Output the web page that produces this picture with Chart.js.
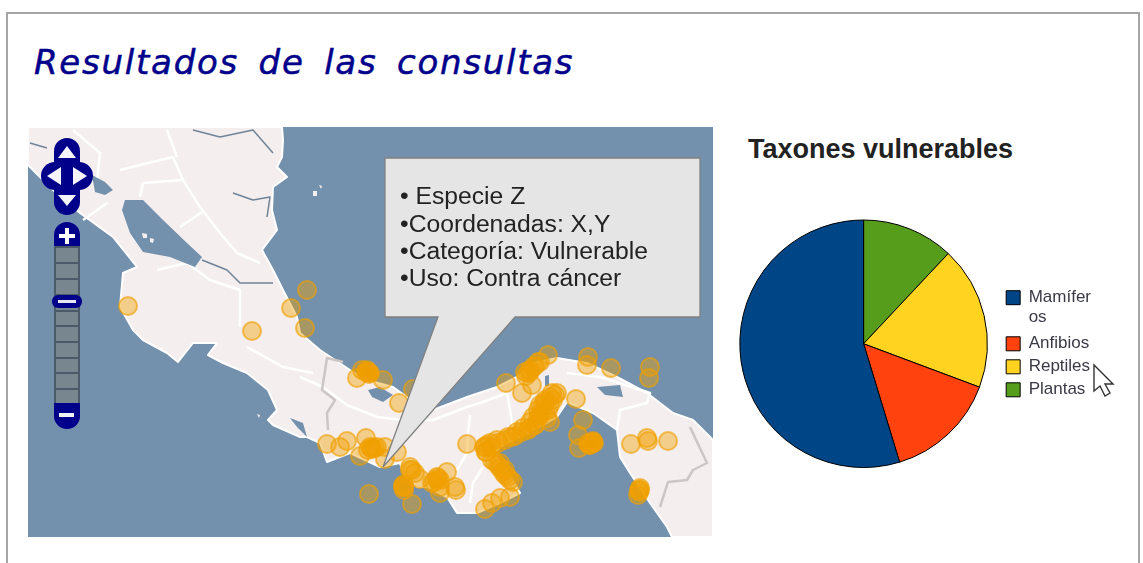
<!DOCTYPE html>
<html lang="es">
<head>
<meta charset="utf-8">
<title>Resultados de las consultas</title>
<script src="https://cdn.jsdelivr.net/npm/chart.js@4/dist/chart.umd.min.js"></script>
<style>
    html, body { margin: 0; padding: 0; background: #fff; overflow: hidden; width: 1143px; height: 563px; }
    #frame { position: absolute; left: 6px; top: 12px; width: 1130px; height: 600px; border: 2px solid #a6a6a6; }
    #page-title { position: absolute; left: 34px; top: 42px; margin: 0; font: italic normal 34px "DejaVu Sans", sans-serif; -webkit-text-stroke: 0.5px #00008b; letter-spacing: 1.75px; word-spacing: 7px; color: #00008b; white-space: nowrap; }
    #pie-title { position: absolute; left: 748px; top: 134px; margin: 0; font: bold 27px "Liberation Sans", sans-serif; color: #222; white-space: nowrap; }
    #map-wrap { position: absolute; left: 28px; top: 127px; width: 685px; height: 410px; }
    #mapChart { filter: blur(0.6px); }
    #overlay { position: absolute; left: 0; top: 0; pointer-events: none; }
    #pie-wrap { position: absolute; left: 718px; top: 210px; width: 400px; height: 268px; }
    .callout-text { font: 24.7px "Liberation Sans", sans-serif; fill: #222; }
</style>
</head>
<body>
<div id="frame"></div>
<h1 id="page-title">Resultados de las consultas</h1>
<div id="map-wrap"><canvas id="mapChart" width="685" height="410"></canvas></div>
<h2 id="pie-title">Taxones vulnerables</h2>
<div id="pie-wrap"><canvas id="pieChart" width="400" height="268"></canvas></div>

<svg id="overlay" width="1143" height="563">
    <!-- pan control -->
    <g fill="#00008b">
        <rect x="54" y="138" width="26" height="77" rx="13"/>
        <rect x="41" y="162" width="52" height="28" rx="14"/>
    </g>
    <g fill="#f4f4fa">
        <polygon points="67,146 58,158 76,158"/>
        <polygon points="47,176 61,167 61,185"/>
        <polygon points="87,176 73,167 73,185"/>
        <polygon points="67,206 58,195 76,195"/>
    </g>
    <!-- zoom bar -->
    <path d="M54 247 V235 a13 13 0 0 1 26 0 V247 Z" fill="#00008b"/>
    <rect x="55" y="247" width="24" height="157" fill="#78868f" stroke="#4a5a68" stroke-width="2"/>
    <g stroke="#4a5a68" stroke-width="2">
        <line x1="55" x2="79" y1="263" y2="263"/><line x1="55" x2="79" y1="279" y2="279"/>
        <line x1="55" x2="79" y1="295" y2="295"/><line x1="55" x2="79" y1="311" y2="311"/>
        <line x1="55" x2="79" y1="326" y2="326"/><line x1="55" x2="79" y1="342" y2="342"/>
        <line x1="55" x2="79" y1="358" y2="358"/><line x1="55" x2="79" y1="373" y2="373"/>
        <line x1="55" x2="79" y1="389" y2="389"/>
    </g>
    <path d="M54 403 H80 V416 a13 13 0 0 1 -26 0 Z" fill="#00008b"/>
    <rect x="52" y="295" width="30" height="13" rx="6" fill="#00008b"/>
    <rect x="58" y="300" width="18" height="3" fill="#e8e8f4"/>
    <rect x="59" y="234" width="16" height="4" fill="#fff"/><rect x="65" y="228" width="4" height="16" fill="#fff"/>
    <rect x="59" y="413" width="15" height="4" fill="#f0f0f8"/>
    <!-- callout -->
    <polygon points="385,158 700,158 700,317 515,317 383,467 438,317 385,317" fill="#e5e5e5" stroke="#808080" stroke-width="1.3"/>
    <text class="callout-text" x="400" y="204">• Especie Z</text>
    <text class="callout-text" x="400" y="232">•Coordenadas: X,Y</text>
    <text class="callout-text" x="400" y="259">•Categoría: Vulnerable</text>
    <text class="callout-text" x="400" y="286">•Uso: Contra cáncer</text>
    <!-- mouse pointer -->
    <polygon points="1094,365 1094,391 1100,386 1105,396 1110,393 1105,384 1113,384" fill="#fff" stroke="#333" stroke-width="1.4"/>
</svg>

<script>
document.addEventListener('DOMContentLoaded', () => {
    // --- 1. Pie data ---
    const TAXA = ['Mamíferos', 'Anfibios', 'Reptiles', 'Plantas'];
    const TAXA_LEGEND = [['Mamífer', 'os'], 'Anfibios', 'Reptiles', 'Plantas'];
    const TAXA_SHARE = [54.7, 14.6, 18.7, 12.0];
    const TAXA_COLORS = ['#004586', '#ff420e', '#ffd320', '#579d1c'];

    // --- 2. Map data (map units) ---
    const MAP_X_RANGE = [28, 713];
    const MAP_Y_RANGE = [127, 537];

    const RECORD_X = [128, 307, 291, 305, 252,
        357, 362, 368, 370, 367, 383, 399, 413, 368, 366, 369,
        327, 340, 347, 366, 360, 372, 377, 368, 385, 385, 397, 369, 372, 375, 370,
        410, 412, 415, 420, 403, 404, 412, 404, 404, 403, 410,
        437, 432, 440, 447, 438, 455, 456, 440, 467, 437, 434, 440,
        485, 490, 497, 508, 517, 523, 530, 533, 538, 543, 550, 557, 548, 550, 540, 535, 545,
        540, 545, 550, 553, 547, 535, 528, 522, 515, 505, 498, 492, 486, 484, 487, 555, 552, 540, 538, 545, 530, 512,
        492, 498, 503, 508, 513, 486, 495, 500, 505, 510, 505, 500,
        485, 492, 500, 510,
        506, 522, 532, 525, 533, 540, 548, 530, 530, 535, 528, 538, 526,
        576, 583, 578, 579, 592, 593, 590, 588, 591, 593, 589, 594,
        588, 587, 611, 650, 649, 631, 647, 648, 668, 639, 638, 640, 640, 639];
    const RECORD_Y = [306, 290, 308, 328, 331,
        378, 370, 372, 373, 370, 380, 403, 389, 372, 372, 374,
        444, 447, 441, 438, 456, 448, 447, 450, 447, 459, 452, 494, 449, 448, 447,
        467, 470, 473, 479, 487, 490, 504, 485, 487, 485, 470,
        477, 483, 487, 472, 478, 487, 490, 493, 444, 480, 482, 480,
        447, 443, 440, 437, 432, 428, 422, 417, 410, 405, 397, 393, 410, 422, 415, 425, 402,
        415, 410, 405, 400, 418, 425, 430, 432, 436, 440, 443, 447, 452, 447, 445, 395, 393, 405, 418, 400, 428, 437,
        460, 465, 472, 477, 482, 452, 462, 468, 475, 480, 470, 463,
        509, 503, 498, 497,
        383, 393, 385, 372, 367, 362, 355, 370, 372, 366, 373, 362, 376,
        399, 420, 435, 448, 443, 442, 445, 443, 444, 441, 445, 443,
        357, 365, 368, 367, 378, 444, 438, 441, 441, 490, 495, 488, 490, 492];

    const LAND_OUTLINE = [[28, 127], [282, 127], [283, 140], [282, 157], [277, 167], [287, 177], [273, 187], [272, 210], [277, 230],
        [262, 250], [273, 270], [283, 290], [297, 317], [300, 333], [320, 350], [350, 370], [367, 380], [393, 387], [407, 397],
        [433, 410], [467, 397], [497, 387], [517, 377], [533, 363], [557, 358], [587, 363], [617, 377], [647, 393], [673, 413],
        [693, 420], [713, 440], [713, 537], [672, 537], [667, 527], [650, 503], [630, 473], [620, 457], [617, 430], [593, 413],
        [567, 402], [557, 417], [533, 430], [507, 443], [493, 453], [507, 470], [520, 493], [500, 503], [477, 513], [457, 513],
        [447, 497], [427, 487], [417, 487], [403, 473], [400, 463], [380, 467], [350, 453], [327, 462], [320, 443], [307, 437],
        [300, 437], [273, 425], [268, 420], [277, 410], [268, 390], [247, 373], [223, 363], [208, 355], [217, 343], [193, 343],
        [178, 362], [167, 353], [143, 340], [133, 330], [120, 307], [123, 273], [137, 267], [113, 237], [80, 213], [53, 190],
        [28, 165]];
    const WATER_LAKE_NICARAGUA = [[125, 200], [143, 200], [163, 220], [187, 243], [202, 257], [195, 267], [170, 257], [143, 252], [130, 233], [122, 210]];
    const WATER_FONSECA = [[92, 175], [105, 182], [113, 190], [105, 195], [95, 192]];
    const WATER_DULCE = [[290, 418], [303, 423], [307, 437], [297, 427]];
    const WATER_CHIRIQUI = [[368, 390], [380, 387], [393, 395], [383, 402], [372, 397]];
    const WATER_BAYANO = [[597, 387], [620, 385], [623, 397], [605, 395]];
    const WATER_GATUN = [[545, 376], [549, 375], [549, 386], [545, 386]];
    const ISLETS = [
        [[142, 233], [147, 234], [147, 238], [143, 238]],
        [[150, 238], [154, 239], [153, 243], [150, 242]],
        [[313, 191], [317, 191], [317, 196], [313, 196]],
        [[319, 185], [322, 186], [321, 189]],
        [[257, 414], [260, 415], [259, 418]]
    ];

    const RIVERS = [
        [[202, 260], [227, 270], [240, 283], [273, 283]],
        [[193, 130], [220, 137], [253, 130], [273, 153]],
        [[233, 193], [253, 200], [270, 197], [267, 217]],
        [[30, 143], [47, 148]]
    ];
    const ROADS = [
        [[73, 130], [100, 153], [97, 180]],
        [[120, 170], [173, 157], [183, 180], [143, 183], [140, 197]],
        [[167, 130], [177, 157]],
        [[183, 180], [200, 207], [220, 233], [237, 253], [260, 263]],
        [[180, 227], [202, 212]],
        [[83, 220], [107, 203]],
        [[157, 270], [187, 263], [210, 280], [240, 290], [240, 327]],
        [[247, 347], [283, 367], [313, 373]],
        [[300, 377], [323, 387], [347, 405], [377, 417], [403, 420], [433, 420], [467, 407], [483, 402], [507, 393], [513, 427]],
        [[470, 415], [468, 433], [467, 453], [457, 470]],
        [[483, 467], [473, 483], [470, 503]],
        [[567, 373], [600, 377], [650, 393], [647, 403], [620, 410], [617, 430]]
    ];
    const BORDERS = [
        [[343, 362], [327, 358], [322, 390], [335, 400], [327, 413], [328, 430]],
        [[690, 427], [707, 463], [693, 470], [687, 480], [668, 482], [660, 507]]
    ];

    const SEA_COLOR = '#7391ad';
    const LAND_COLOR = '#f5eeee';

    // --- 3. Base map plugin, goes through the chart scales ---
    const baseMapPlugin = {
        id: 'baseMap',
        beforeDatasetsDraw(chart) {
            const { ctx, scales: { x, y }, chartArea } = chart;
            const trace = (pts) => {
                ctx.beginPath();
                pts.forEach((p, i) => {
                    const px = x.getPixelForValue(p[0]);
                    const py = y.getPixelForValue(p[1]);
                    if (i === 0) ctx.moveTo(px, py); else ctx.lineTo(px, py);
                });
            };
            ctx.save();
            ctx.fillStyle = SEA_COLOR;
            ctx.fillRect(chartArea.left, chartArea.top, chartArea.width, chartArea.height);

            trace(LAND_OUTLINE);
            ctx.closePath();
            ctx.fillStyle = LAND_COLOR;
            ctx.fill();
            ctx.lineJoin = 'round';
            ctx.strokeStyle = '#ffffff';
            ctx.lineWidth = 2;
            ctx.stroke();

            ctx.lineWidth = 2.5;
            ctx.strokeStyle = '#ffffff';
            ROADS.forEach(r => { trace(r); ctx.stroke(); });
            ctx.strokeStyle = '#cdc6c6';
            BORDERS.forEach(r => { trace(r); ctx.stroke(); });
            ctx.lineWidth = 1.5;
            ctx.strokeStyle = '#6f8499';
            RIVERS.forEach(r => { trace(r); ctx.stroke(); });

            ctx.fillStyle = SEA_COLOR;
            [WATER_LAKE_NICARAGUA, WATER_FONSECA, WATER_DULCE, WATER_CHIRIQUI, WATER_BAYANO, WATER_GATUN].forEach(w => {
                trace(w);
                ctx.closePath();
                ctx.fill();
            });
            ctx.fillStyle = '#f5eeee';
            ISLETS.forEach(w => {
                trace(w);
                ctx.closePath();
                ctx.fill();
            });
            ctx.restore();
        }
    };

    // --- 4. Map chart ---
    new Chart(document.getElementById('mapChart').getContext('2d'), {
        type: 'scatter',
        data: {
            datasets: [{
                label: 'Registros',
                data: RECORD_X.map((v, i) => ({ x: v, y: RECORD_Y[i] })),
                pointRadius: 9,
                pointBorderWidth: 2,
                pointBackgroundColor: 'rgba(240,160,0,0.42)',
                pointBorderColor: 'rgba(240,160,0,0.65)'
            }]
        },
        options: {
            responsive: false,
            animation: false,
            layout: { padding: 0, autoPadding: false },
            plugins: { legend: { display: false }, tooltip: { enabled: false } },
            scales: {
                x: { type: 'linear', display: false, min: MAP_X_RANGE[0], max: MAP_X_RANGE[1] },
                y: { type: 'linear', display: false, reverse: true, min: MAP_Y_RANGE[0], max: MAP_Y_RANGE[1] }
            }
        },
        plugins: [baseMapPlugin]
    });

    // --- 5. Pie chart ---
    // the original runs counter-clockwise, so the slices go in reversed
    new Chart(document.getElementById('pieChart').getContext('2d'), {
        type: 'pie',
        data: {
            labels: TAXA_LEGEND.slice().reverse(),
            datasets: [{
                label: TAXA.join(', '),
                data: TAXA_SHARE.slice().reverse(),
                backgroundColor: TAXA_COLORS.slice().reverse(),
                borderColor: '#000',
                borderWidth: 1
            }]
        },
        options: {
            responsive: false,
            animation: false,
            layout: { padding: { left: 9, right: 17, top: 9.5, bottom: 10 } },
            plugins: {
                tooltip: { enabled: false },
                legend: {
                    position: 'right',
                    reverse: true,
                    labels: {
                        boxWidth: 14,
                        boxHeight: 14,
                        padding: 6,
                        color: '#3a3a46',
                        font: { family: '"Liberation Sans"', size: 17, lineHeight: 1.18 }
                    }
                }
            }
        }
    });
});
</script>
</body>
</html>
